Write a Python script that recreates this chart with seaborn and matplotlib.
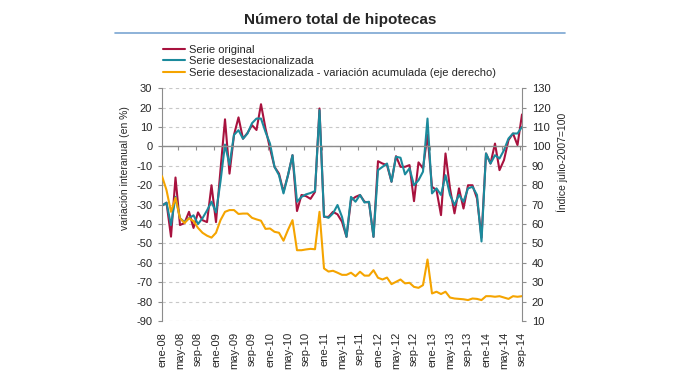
import matplotlib
matplotlib.use("Agg")
import matplotlib.pyplot as plt
from matplotlib.lines import Line2D
import numpy as np
import pandas as pd
import seaborn as sns

sns.set_style("white")
plt.rcParams["font.family"] = ["Liberation Sans", "DejaVu Sans"]
plt.rcParams["axes.unicode_minus"] = False

# meses ene-08 .. sep-14
meses = ["ene", "feb", "mar", "abr", "may", "jun", "jul", "ago", "sep", "oct", "nov", "dic"]
fechas = [f"{m}-{a:02d}" for a in range(8, 15) for m in meses][:81]

# variacion interanual (%), serie original
serie_original = [
    -30.5, -29, -46.5, -16, -40.5, -39.5, -33.7, -42, -34, -38, -39, -20,
    -39, -12, 14, -14, 6, 15, 4, 7, 11, 8.5, 21.8, 9.3,
    -1, -10.5, -14, -23.4, -14.8, -4.5, -33.3, -25, -25.6, -27, -23.4, 19.6,
    -36.3, -36.3, -33.7, -35, -38.8, -46.6, -27.7, -26, -25, -28.5, -28.9, -46.6,
    -7.6, -8.8, -9.6, -18.2, -5, -10.5, -10.5, -9.6, -28.2, -8.2, -11.3, 6,
    -20.8, -22.5, -35.4, -3.6, -21.6, -34.5, -21.6, -32, -20, -20, -26.8, -47,
    -3.6, -8.8, 1.5, -12.2, -7, 3.3, 6.7, 0.7, 16.5,
]

# variacion interanual (%), serie desestacionalizada
serie_desest = [
    -30.5, -29, -40.5, -26, -37, -39, -37, -35.5, -40, -37, -33, -28.5,
    -34, -18, 1, -9.5, 6, 8.4, 4, 6.7, 12, 14.4, 14.4, 7.5,
    1.5, -10.5, -14.8, -24.2, -14.8, -4.5, -28.5, -26, -24.7, -24, -23, 18.7,
    -36, -36.8, -34.5, -30.2, -36.3, -46.6, -26, -28.5, -25, -28.9, -28.5, -46.6,
    -12.2, -10.5, -8.8, -18.2, -5.3, -5.8, -14.4, -11.3, -20, -17.4, -13, 14.4,
    -24.2, -21.6, -25, -14.8, -25, -30.2, -25, -28.5, -21.6, -20.8, -25, -49,
    -3.6, -8.8, -4.5, -6.2, -1.9, 4.1, 6.7, 6.7, 10.1,
]

# indice julio-2007=100, serie desestacionalizada acumulada (eje derecho)
variacion_acumulada = [
    84.7, 77.5, 66.3, 73.5, 63, 60.5, 63, 61.5, 58, 55.5, 54, 53,
    55.5, 62, 66.3, 67.2, 67.2, 65.2, 65.4, 65.4, 63.2, 62.4, 61.7, 57.5,
    57.7, 56, 55.5, 51.4, 57, 62, 46.5, 46.5, 46.9, 47.2, 47, 66.3,
    37.1, 35.5, 35.9, 34.9, 33.8, 33.8, 34.9, 33.1, 35.4, 33.4, 33.4, 36.2,
    32.3, 31.4, 32.4, 29, 30.2, 31.4, 29.4, 29.7, 27.6, 27.1, 28.5, 41.7,
    24.2, 25.1, 23.9, 25.1, 22.1, 21.6, 21.4, 21.2, 20.8, 21.6, 21.4, 20.8,
    22.8, 22.8, 22.5, 22.8, 22.1, 21.4, 22.8, 22.5, 22.8,
]

df = pd.DataFrame({
    "mes": np.arange(len(fechas)),
    "original": serie_original,
    "desest": serie_desest,
    "acumulada": variacion_acumulada,
})

ROJO = "#a8123e"
VERDE = "#1b8a9c"
NARANJA = "#f5a400"
GRIS = "#8c8c8c"

fig = plt.figure(figsize=(6.76, 3.76), dpi=100)
ax = fig.add_axes([162 / 676, 1 - 321 / 376, 360 / 676, (321 - 88.3) / 376])
ax2 = ax.twinx()

sns.lineplot(data=df, x="mes", y="original", ax=ax, color=ROJO, lw=1.5)
sns.lineplot(data=df, x="mes", y="desest", ax=ax, color=VERDE, lw=1.5)
sns.lineplot(data=df, x="mes", y="acumulada", ax=ax2, color=NARANJA, lw=1.5)

ax.set_xlim(0, 80)
ax.set_ylim(-90, 30)
ax.set_yticks(range(-90, 31, 10))
ax2.set_ylim(10, 130)
ax2.set_yticks(range(10, 131, 10))
ax.set_xlabel("")
ax.set_ylabel("")
ax2.set_ylabel("")

ax.yaxis.grid(True, ls=(0, (3, 3)), color="#c8c8c8", lw=0.8)
ax.set_axisbelow(True)
ax2.grid(False)

# eje de categorias cruzando en 0
ax.spines["bottom"].set_position(("data", 0))
ax.spines["bottom"].set_color(GRIS)
ax.spines["bottom"].set_linewidth(1.0)
ax.spines["left"].set_color(GRIS)
ax.spines["top"].set_visible(False)
ax.spines["right"].set_visible(False)
for s in ["top", "bottom", "left"]:
    ax2.spines[s].set_visible(False)
ax2.spines["right"].set_color(GRIS)

ax.set_xticks(np.arange(3.5, 80, 4))
ax.set_xticklabels([])
ax.tick_params(axis="x", bottom=True, direction="out", length=3, color=GRIS)
ax.tick_params(axis="y", left=True, direction="out", length=3, color=GRIS,
               labelsize=8, pad=4)
ax2.tick_params(axis="y", right=True, direction="out", length=3, color=GRIS,
                labelsize=8, pad=4)

sec = ax.secondary_xaxis(0)
sec.set_xticks(range(0, 81, 4))
sec.set_xticklabels(fechas[::4], rotation=90, fontsize=8)
sec.spines["bottom"].set_visible(False)
sec.tick_params(length=0, pad=8)

fig.text(340 / 676, 1 - 20 / 376, "Número total de hipotecas", ha="center",
         va="center", fontsize=11, fontweight="bold")
fig.add_artist(Line2D([115 / 676, 565 / 676], [1 - 32.5 / 376] * 2,
                      color="#7aa6d2", lw=1.2))

fig.text(125 / 676, 1 - 168 / 376, "variación interanual (en %)", rotation=90,
         ha="center", va="center", fontsize=7.5)
fig.text(562 / 676, 1 - 162 / 376, "Índice julio-2007=100", rotation=90,
         ha="center", va="center", fontsize=7.5)

handles = [Line2D([], [], color=ROJO, lw=1.5),
           Line2D([], [], color=VERDE, lw=1.5),
           Line2D([], [], color=NARANJA, lw=1.5)]
etiquetas = ["Serie original", "Serie desestacionalizada",
             "Serie desestacionalizada - variación acumulada (eje derecho)"]
fig.legend(handles, etiquetas, loc="upper left",
           bbox_to_anchor=(163 / 676, 1 - 45 / 376), frameon=False, fontsize=8,
           handlelength=2.0, handletextpad=0.3, labelspacing=0.12,
           borderpad=0, borderaxespad=0)

fig.savefig("out.png", dpi=100)
